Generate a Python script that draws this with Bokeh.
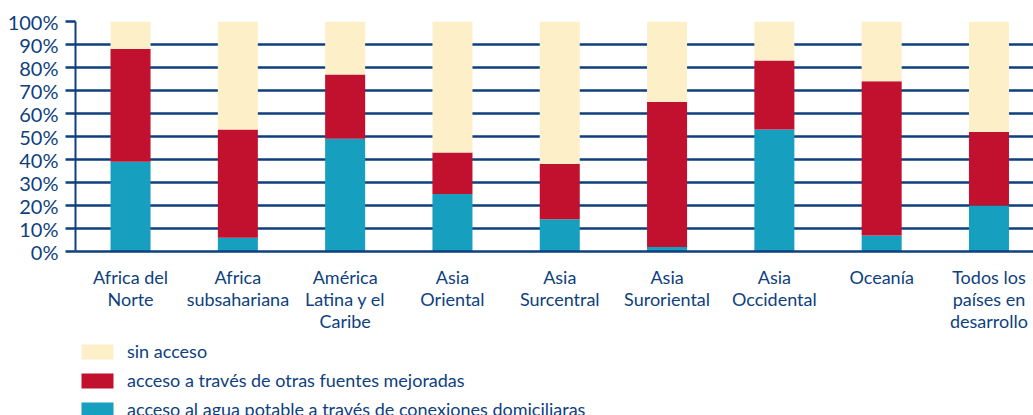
from bokeh.plotting import figure
from bokeh.layouts import column
from bokeh.models import Range1d, FixedTicker, PrintfTickFormatter, Legend, LegendItem
from bokeh.embed import file_html
from bokeh.resources import INLINE

categories = ["Africa del\nNorte", "Africa\nsubsahariana", "América\nLatina y el\nCaribe",
              "Asia\nOriental", "Asia\nSurcentral", "Asia\nSuroriental", "Asia\nOccidental",
              "Oceanía", "Todos los\npaíses en\ndesarrollo"]
conexiones = [39, 6, 49, 25, 14, 2, 53, 7, 20]
otras_fuentes = [49, 47, 28, 18, 24, 63, 30, 67, 32]
sin_acceso = [12, 47, 23, 57, 62, 35, 17, 26, 48]
series_names = ["acceso al agua potable a través de conexiones domiciliaras",
                "acceso a través de otras fuentes mejoradas",
                "sin acceso"]
y_ticks = [0, 10, 20, 30, 40, 50, 60, 70, 80, 90, 100]

TEAL = "#179FBF"
RED = "#C1112F"
CREAM = "#FDF0C9"
BLUE = "#0E3F7E"
FONT = "Lato"

xs = list(range(len(categories)))
data = dict(x=xs, conexiones=conexiones, otras=otras_fuentes, sin=sin_acceso)
stack_cols = ["conexiones", "otras", "sin"]
colors = [TEAL, RED, CREAM]

p = figure(frame_width=958, frame_height=230, output_backend="svg", toolbar_location=None,
           x_range=Range1d(-0.513, 8.415), y_range=Range1d(0, 100),
           min_border_left=75, min_border_right=0, min_border_top=21, min_border_bottom=0)
p.outline_line_color = None
p.background_fill_color = "white"

p.vbar_stack(stack_cols, x="x", width=0.373, source=data, color=colors, line_color=None)

p.xgrid.grid_line_color = None
p.ygrid.ticker = FixedTicker(ticks=y_ticks)
p.ygrid.grid_line_color = BLUE
p.ygrid.grid_line_width = 2.5

p.yaxis.ticker = FixedTicker(ticks=y_ticks)
p.yaxis.formatter = PrintfTickFormatter(format="%d%%")
p.yaxis.major_tick_out = 10
p.yaxis.major_tick_in = 0
p.yaxis.minor_tick_line_color = None
p.yaxis.major_tick_line_color = BLUE
p.yaxis.major_tick_line_width = 2.5
p.yaxis.axis_line_color = BLUE
p.yaxis.axis_line_width = 2
p.yaxis.major_label_standoff = 7
p.yaxis.major_label_text_font = FONT
p.yaxis.major_label_text_font_size = "20px"
p.yaxis.major_label_text_color = BLUE

p.xaxis.ticker = FixedTicker(ticks=xs)
p.xaxis.major_label_overrides = {i: c for i, c in enumerate(categories)}
p.xaxis.major_tick_out = 0
p.xaxis.major_tick_in = 0
p.xaxis.minor_tick_line_color = None
p.xaxis.axis_line_color = BLUE
p.xaxis.axis_line_width = 2.5
p.xaxis.major_label_standoff = 14
p.xaxis.major_label_text_font = FONT
p.xaxis.major_label_text_font_size = "18px"
p.xaxis.major_label_text_line_height = 1.0
p.xaxis.major_label_text_color = BLUE

# legend panel (its renderers reuse the same data, kept out of view)
pl = figure(width=1033, height=84, output_backend="svg", toolbar_location=None,
            x_axis_type=None, y_axis_type=None, x_range=Range1d(-0.513, 8.415),
            y_range=Range1d(1000, 1001), min_border=0)
pl.outline_line_color = None
pl.background_fill_color = None
pl.border_fill_color = None
pl.xgrid.grid_line_color = None
pl.ygrid.grid_line_color = None
rs = pl.vbar_stack(stack_cols, x="x", width=0.373, source=data, color=colors, line_color=None)

items = [LegendItem(label=series_names[2], renderers=[rs[2]]),
         LegendItem(label=series_names[1], renderers=[rs[1]]),
         LegendItem(label=series_names[0], renderers=[rs[0]])]
legend = Legend(items=items, location=(2, -2), orientation="vertical",
                glyph_width=40, glyph_height=19, label_height=19, spacing=7,
                label_standoff=10, padding=0, margin=0,
                border_line_color=None, background_fill_alpha=0,
                label_text_font=FONT, label_text_font_size="18px", label_text_color=BLUE)
pl.add_layout(legend)

layout = column(p, pl, spacing=0)
open("out.html", "w").write(file_html(layout, INLINE))
